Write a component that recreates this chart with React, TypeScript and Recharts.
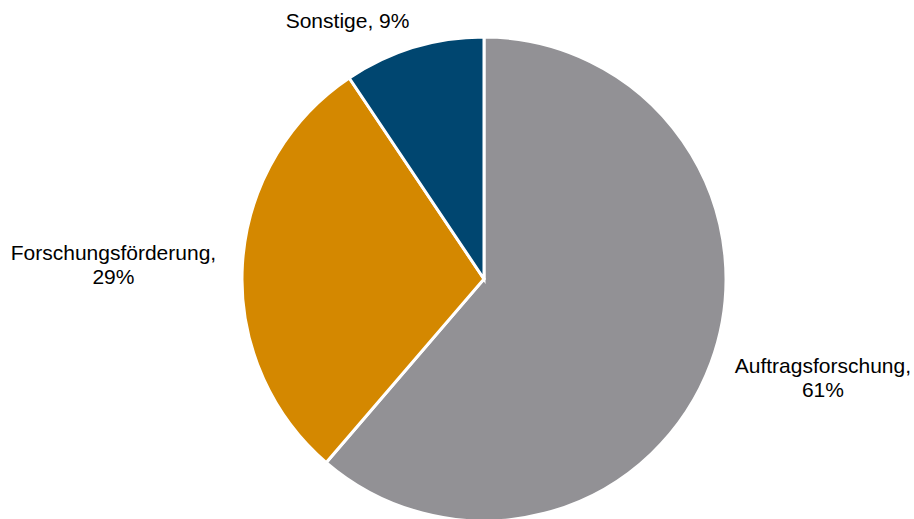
import React from "react";
import { PieChart, Pie, Cell } from "recharts";

const categories = ["Auftragsforschung", "Forschungsförderung", "Sonstige"];
const shares = [61.3, 29.3, 9.4];
const shareLabels = ["61%", "29%", "9%"];
const colors = ["#929195", "#d48800", "#004670"];

// label placement relative to the slice's outer edge at mid angle
const labelOffsets = [
  { dx: 112, dy: 14, wrap: true },
  { dx: -129, dy: -1, wrap: true },
  { dx: -66, dy: -27, wrap: false },
];

const data = categories.map((name, i) => ({ name, value: shares[i] }));

const RADIAN = Math.PI / 180;

const renderLabel = (props: any) => {
  const { cx, cy, midAngle, outerRadius, index } = props;
  const px = cx + outerRadius * Math.cos(-midAngle * RADIAN);
  const py = cy + outerRadius * Math.sin(-midAngle * RADIAN);
  const off = labelOffsets[index];
  const x = px + off.dx;
  const y = py + off.dy;
  const name = categories[index] + ",";
  const pct = shareLabels[index];
  const style = { fontFamily: "Arial, 'Liberation Sans', sans-serif", fontSize: 21, fill: "#000" };
  if (!off.wrap) {
    return (
      <text x={x} y={y} textAnchor="middle" dominantBaseline="central" style={style}>
        {name + " " + pct}
      </text>
    );
  }
  return (
    <text x={x} y={y} textAnchor="middle" dominantBaseline="central" style={style}>
      <tspan x={x} y={y - 12}>{name}</tspan>
      <tspan x={x} y={y + 12}>{pct}</tspan>
    </text>
  );
};

export default function App() {
  return (
    <div style={{ position: "absolute", left: 0, top: 0, background: "#fff" }}>
      <PieChart width={914} height={519} margin={{ top: 0, right: 0, bottom: 0, left: 0 }}>
        <Pie
          data={data}
          dataKey="value"
          nameKey="name"
          cx={484}
          cy={279}
          outerRadius={242}
          startAngle={90}
          endAngle={-270}
          stroke="#ffffff"
          strokeWidth={3}
          label={renderLabel}
          labelLine={false}
          isAnimationActive={false}
        >
          {data.map((d, i) => (
            <Cell key={d.name} fill={colors[i]} />
          ))}
        </Pie>
      </PieChart>
    </div>
  );
}
